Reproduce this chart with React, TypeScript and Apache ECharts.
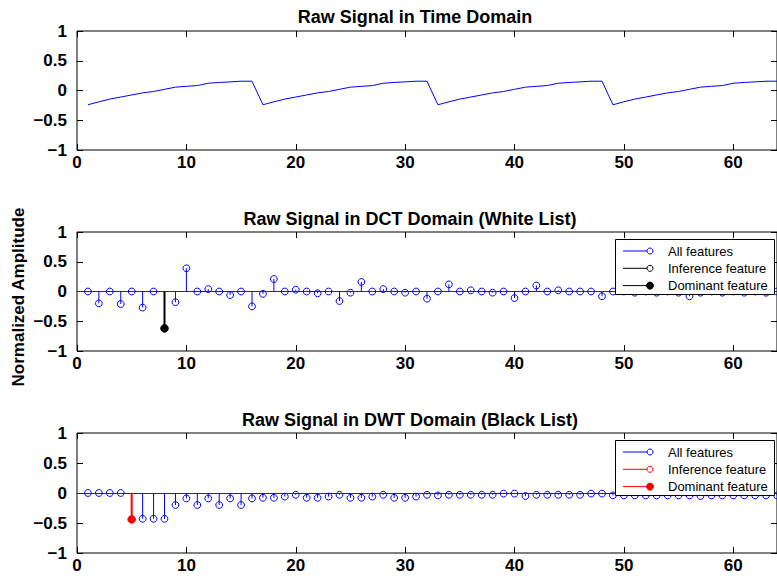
import React, { useEffect, useRef } from "react";
import * as echarts from "echarts";

const FONT = "'Liberation Sans', Arial, Helvetica, sans-serif";

// Time-domain samples (index 1..64)
const timeSignal = [
  -0.24, -0.19, -0.144, -0.11, -0.075, -0.04, -0.017, 0.02, 0.056, 0.07, 0.083, 0.122, 0.135, 0.145, 0.156, 0.156,
  -0.24, -0.19, -0.144, -0.11, -0.075, -0.04, -0.017, 0.02, 0.056, 0.07, 0.083, 0.122, 0.135, 0.145, 0.156, 0.156,
  -0.24, -0.19, -0.144, -0.11, -0.075, -0.04, -0.017, 0.02, 0.056, 0.07, 0.083, 0.122, 0.135, 0.145, 0.156, 0.156,
  -0.24, -0.19, -0.144, -0.11, -0.075, -0.04, -0.017, 0.02, 0.056, 0.07, 0.083, 0.122, 0.135, 0.145, 0.156, 0.156,
];

// DCT coefficients (index 1..64)
const dctValues = [
  0, -0.2, 0, -0.21, 0, -0.27, 0, -0.62, -0.18, 0.39, 0, 0.04, 0, -0.06, 0, -0.25,
  -0.04, 0.21, 0, 0.03, 0, -0.03, 0, -0.16, -0.02, 0.16, 0, 0.04, 0, -0.02, 0, -0.12,
  0, 0.12, 0, 0.02, 0, -0.02, 0, -0.11, 0, 0.1, 0, 0.02, 0, 0, 0, -0.08,
  0, 0, -0.02, 0, -0.02, 0, -0.02, -0.08, -0.02, 0, -0.02, 0, -0.02, 0, -0.02, 0,
];
const dctDominant = [8];

// DWT coefficients (index 1..64)
const dwtValues = [
  0, 0, 0, 0, -0.44, -0.43, -0.43, -0.43, -0.2, -0.09, -0.2, -0.09, -0.2, -0.09, -0.2, -0.09,
  -0.08, -0.08, -0.06, -0.03, -0.08, -0.08, -0.06, -0.03, -0.08, -0.08, -0.06, -0.03, -0.08, -0.08, -0.06, -0.03,
  -0.04, -0.03, -0.03, -0.03, -0.03, -0.03, -0.01, -0.01, -0.05, -0.03, -0.03, -0.03, -0.03, -0.03, -0.01, -0.01,
  -0.04, -0.04, -0.04, -0.04, -0.04, -0.04, -0.04, -0.04, -0.05, -0.04, -0.04, -0.04, -0.04, -0.04, -0.04, -0.04,
];
const dwtDominant = [5];

const titles = [
  "Raw Signal in Time Domain",
  "Raw Signal in DCT Domain (White List)",
  "Raw Signal in DWT Domain (Black List)",
];
const legendLabels = ["All features", "Inference feature", "Dominant feature"];
const yLabel = "Normalized Amplitude";

const grids = [
  { top: 31, height: 119 },
  { top: 232, height: 119 },
  { top: 433, height: 120 },
];
const titlePos = [
  { x: 415, y: 17 },
  { x: 410, y: 219 },
  { x: 410, y: 420 },
];

const fmtY = (v: number) => (v < 0 ? "\u2212" + Math.abs(v) : String(v));

function stemSeries(
  name: string,
  idx: number,
  data: number[][],
  color: string,
  lineWidth: number,
  filled: boolean,
  withBaseline: boolean
) {
  const s: any = {
    name,
    type: "custom",
    xAxisIndex: idx * 2,
    yAxisIndex: idx * 2,
    clip: true,
    z: withBaseline ? 3 : 4,
    data,
    renderItem: (params: any, api: any) => {
      const x = api.value(0);
      const y = api.value(1);
      const p0 = api.coord([x, 0]);
      const p1 = api.coord([x, y]);
      return {
        type: "group",
        children: [
          {
            type: "line",
            shape: { x1: p0[0], y1: p0[1], x2: p1[0], y2: p1[1] },
            style: { stroke: color, lineWidth },
          },
          {
            type: "circle",
            shape: { cx: p1[0], cy: p1[1], r: filled ? 3.8 : 3.4 },
            style: { fill: filled ? color : "none", stroke: color, lineWidth: 1 },
          },
        ],
      };
    },
  };
  if (withBaseline) {
    s.markLine = {
      silent: true,
      symbol: "none",
      label: { show: false },
      lineStyle: { color: "#333", type: "solid", width: 1 },
      data: [{ yAxis: 0 }],
      z: 1,
    };
  }
  return s;
}

function legendGroup(top: number, altColor: string) {
  const left = 615;
  const w = 159;
  const h = 55;
  const Z = 100;
  const rows = [
    { color: "#0000ff", filled: false },
    { color: altColor, filled: false },
    { color: altColor, filled: true },
  ];
  const children: any[] = [
    {
      type: "rect",
      z: Z,
      shape: { x: left + 0.5, y: top + 0.5, width: w, height: h },
      style: { fill: "#fff", stroke: "#000", lineWidth: 1 },
    },
  ];
  rows.forEach((r, i) => {
    const cy = top + 12 + i * 17.3;
    children.push({
      type: "line",
      z: Z + 1,
      shape: { x1: left + 8, y1: cy, x2: left + 35, y2: cy },
      style: { stroke: r.color, lineWidth: 1 },
    });
    children.push({
      type: "circle",
      z: Z + 2,
      shape: { cx: left + 35, cy, r: r.filled ? 3.5 : 3 },
      style: { fill: r.filled ? r.color : "#fff", stroke: r.color, lineWidth: 1 },
    });
    children.push({
      type: "text",
      z: Z + 1,
      x: left + 53,
      y: cy,
      style: {
        text: legendLabels[i],
        font: `13px ${FONT}`,
        fill: "#000",
        textAlign: "left",
        textVerticalAlign: "middle",
      },
    });
  });
  return { type: "group", z: Z, children };
}

export default function App() {
  const ref = useRef<HTMLDivElement>(null);
  useEffect(() => {
    if (!ref.current) return;
    const chart = echarts.init(ref.current, undefined, { renderer: "svg" });

    const gridOpts = grids.map((g) => ({
      left: 77,
      width: 704,
      top: g.top,
      height: g.height,
      show: true,
      borderColor: "#000",
      borderWidth: 1,
      backgroundColor: "transparent",
      containLabel: false,
    }));

    const tick = { show: true, inside: true, length: 6, lineStyle: { color: "#000", width: 1 } };
    const labelStyle = {
      color: "#000",
      fontFamily: FONT,
      fontWeight: "bold",
      fontSize: 17,
    };

    const xAxes: any[] = [];
    const yAxes: any[] = [];
    grids.forEach((_, i) => {
      xAxes.push({
        type: "value",
        gridIndex: i,
        min: 0,
        max: 64,
        interval: 10,
        position: "bottom",
        axisLine: { show: false, onZero: false },
        axisTick: tick,
        axisLabel: { show: true, showMaxLabel: false, margin: 4, ...labelStyle },
        splitLine: { show: false },
      });
      xAxes.push({
        type: "value",
        gridIndex: i,
        min: 0,
        max: 64,
        interval: 10,
        position: "top",
        axisLine: { show: false, onZero: false },
        axisTick: tick,
        axisLabel: { show: false },
        splitLine: { show: false },
      });
      yAxes.push({
        type: "value",
        gridIndex: i,
        min: -1,
        max: 1,
        interval: 0.5,
        position: "left",
        axisLine: { show: false, onZero: false },
        axisTick: tick,
        axisLabel: { show: true, margin: 10, formatter: fmtY, ...labelStyle },
        splitLine: { show: false },
      });
      yAxes.push({
        type: "value",
        gridIndex: i,
        min: -1,
        max: 1,
        interval: 0.5,
        position: "right",
        axisLine: { show: false, onZero: false },
        axisTick: tick,
        axisLabel: { show: false },
        splitLine: { show: false },
      });
    });

    const timeData = timeSignal.map((v, i) => [i + 1, v]);
    const dctAll = dctValues
      .map((v, i) => [i + 1, v])
      .filter((d) => !dctDominant.includes(d[0]));
    const dctDom = dctDominant.map((k) => [k, dctValues[k - 1]]);
    const dwtAll = dwtValues
      .map((v, i) => [i + 1, v])
      .filter((d) => !dwtDominant.includes(d[0]));
    const dwtDom = dwtDominant.map((k) => [k, dwtValues[k - 1]]);

    const graphics: any[] = titles.map((t, i) => ({
      type: "text",
      x: titlePos[i].x,
      y: titlePos[i].y,
      z: 100,
      style: {
        text: t,
        font: `bold 18px ${FONT}`,
        fill: "#000",
        textAlign: "center",
        textVerticalAlign: "middle",
      },
    }));
    graphics.push({
      type: "text",
      x: 18,
      y: 297,
      rotation: Math.PI / 2,
      z: 100,
      style: {
        text: yLabel,
        font: `bold 17px ${FONT}`,
        fill: "#000",
        textAlign: "center",
        textVerticalAlign: "middle",
      },
    });
    graphics.push(legendGroup(239, "#000"));
    graphics.push(legendGroup(440, "#ff0000"));

    chart.setOption({
      animation: false,
      backgroundColor: "#fff",
      grid: gridOpts,
      xAxis: xAxes,
      yAxis: yAxes,
      series: [
        {
          name: "Time",
          type: "line",
          xAxisIndex: 0,
          yAxisIndex: 0,
          data: timeData,
          showSymbol: false,
          symbol: "none",
          lineStyle: { color: "#0000ff", width: 1 },
          clip: true,
        },
        stemSeries("DCT All features", 1, dctAll, "#0000ff", 1, false, true),
        stemSeries("DCT Dominant feature", 1, dctDom, "#000", 2, true, false),
        stemSeries("DWT All features", 2, dwtAll, "#0000ff", 1, false, true),
        stemSeries("DWT Dominant feature", 2, dwtDom, "#ff0000", 2, true, false),
      ],
      graphic: graphics,
    });
    return () => chart.dispose();
  }, []);
  return (
    <div
      ref={ref}
      style={{ position: "fixed", left: 0, top: 0, width: 777, height: 579, background: "#fff" }}
    />
  );
}
